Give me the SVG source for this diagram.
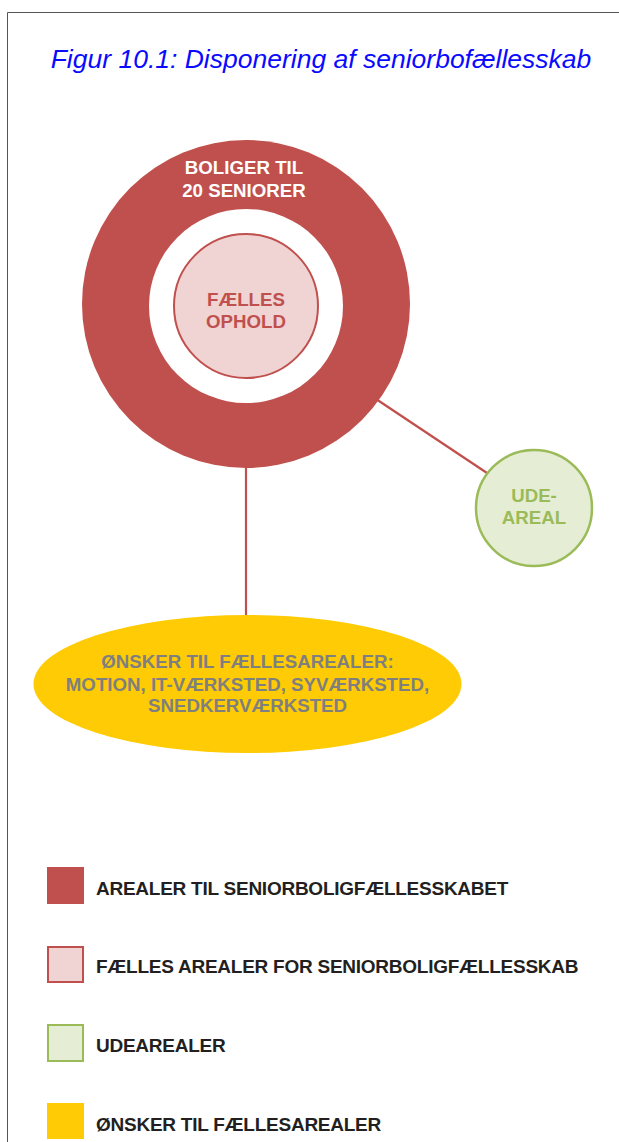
<svg xmlns="http://www.w3.org/2000/svg" width="619" height="1142" viewBox="0 0 619 1142">
<style>
.b{font-family:"Liberation Sans",Arial,sans-serif;font-weight:bold;text-anchor:middle;font-size:18.7px}
.lg{font-family:"Liberation Sans",Arial,sans-serif;font-weight:bold;font-size:19px;fill:#231f20;letter-spacing:-0.25px}
.con{stroke:#c0504d;stroke-width:2.2;fill:none}
</style>
<rect x="0" y="0" width="619" height="1142" fill="#ffffff"/>
<path d="M7.5 1142 V12.5 H619" fill="none" stroke="#555555" stroke-width="1"/>
<text x="321" y="68" font-family="Liberation Sans,Arial,sans-serif" font-style="italic" font-size="26.5" fill="#0a0aff" text-anchor="middle">Figur 10.1: Disponering af seniorbofællesskab</text>
<g id="connectors">
<line class="con" x1="246" y1="460" x2="246" y2="617"/>
<line class="con" x1="370" y1="395" x2="487" y2="473"/>
</g>
<g id="boliger">
<circle cx="246" cy="304" r="164" fill="#c0504d"/>
<circle cx="246" cy="306" r="97" fill="#ffffff"/>
<text class="b" x="244" y="174" fill="#ffffff">BOLIGER TIL</text>
<text class="b" x="244" y="197" fill="#ffffff">20 SENIORER</text>
</g>
<g id="faelles">
<circle cx="246" cy="306" r="72" fill="#f0d3d3" stroke="#c0504d" stroke-width="2"/>
<text class="b" x="246" y="306" fill="#c0504d">FÆLLES</text>
<text class="b" x="246" y="328" fill="#c0504d">OPHOLD</text>
</g>
<g id="udeareal">
<circle cx="534" cy="508" r="58" fill="#e5eed5" stroke="#9bbb59" stroke-width="2.5"/>
<text class="b" x="534" y="502" fill="#9bbb59">UDE-</text>
<text class="b" x="534" y="524" fill="#9bbb59">AREAL</text>
</g>
<g id="onsker">
<ellipse cx="247.5" cy="684" rx="214" ry="69" fill="#fecb05"/>
<text class="b" x="247.5" y="668" font-size="18.6" fill="#7f7f7f">ØNSKER TIL FÆLLESAREALER:</text>
<text class="b" x="247.5" y="691" font-size="18.6" fill="#7f7f7f">MOTION, IT-VÆRKSTED, SYVÆRKSTED,</text>
<text class="b" x="247.5" y="712" font-size="18.6" fill="#7f7f7f">SNEDKERVÆRKSTED</text>
</g>
<g id="legend1">
<rect x="47" y="867" width="37" height="37" fill="#c0504d"/>
<text class="lg" x="96" y="895">AREALER TIL SENIORBOLIGFÆLLESSKABET</text>
</g>
<g id="legend2">
<rect x="48" y="947" width="35" height="35" fill="#f0d3d3" stroke="#c0504d" stroke-width="2"/>
<text class="lg" x="96" y="973">FÆLLES AREALER FOR SENIORBOLIGFÆLLESSKAB</text>
</g>
<g id="legend3">
<rect x="48" y="1025" width="35" height="36" fill="#e5eed5" stroke="#9bbb59" stroke-width="2"/>
<text class="lg" x="96" y="1052">UDEAREALER</text>
</g>
<g id="legend4">
<rect x="47" y="1103" width="37" height="36" fill="#fecb05"/>
<text class="lg" x="96" y="1131">ØNSKER TIL FÆLLESAREALER</text>
</g>
</svg>
